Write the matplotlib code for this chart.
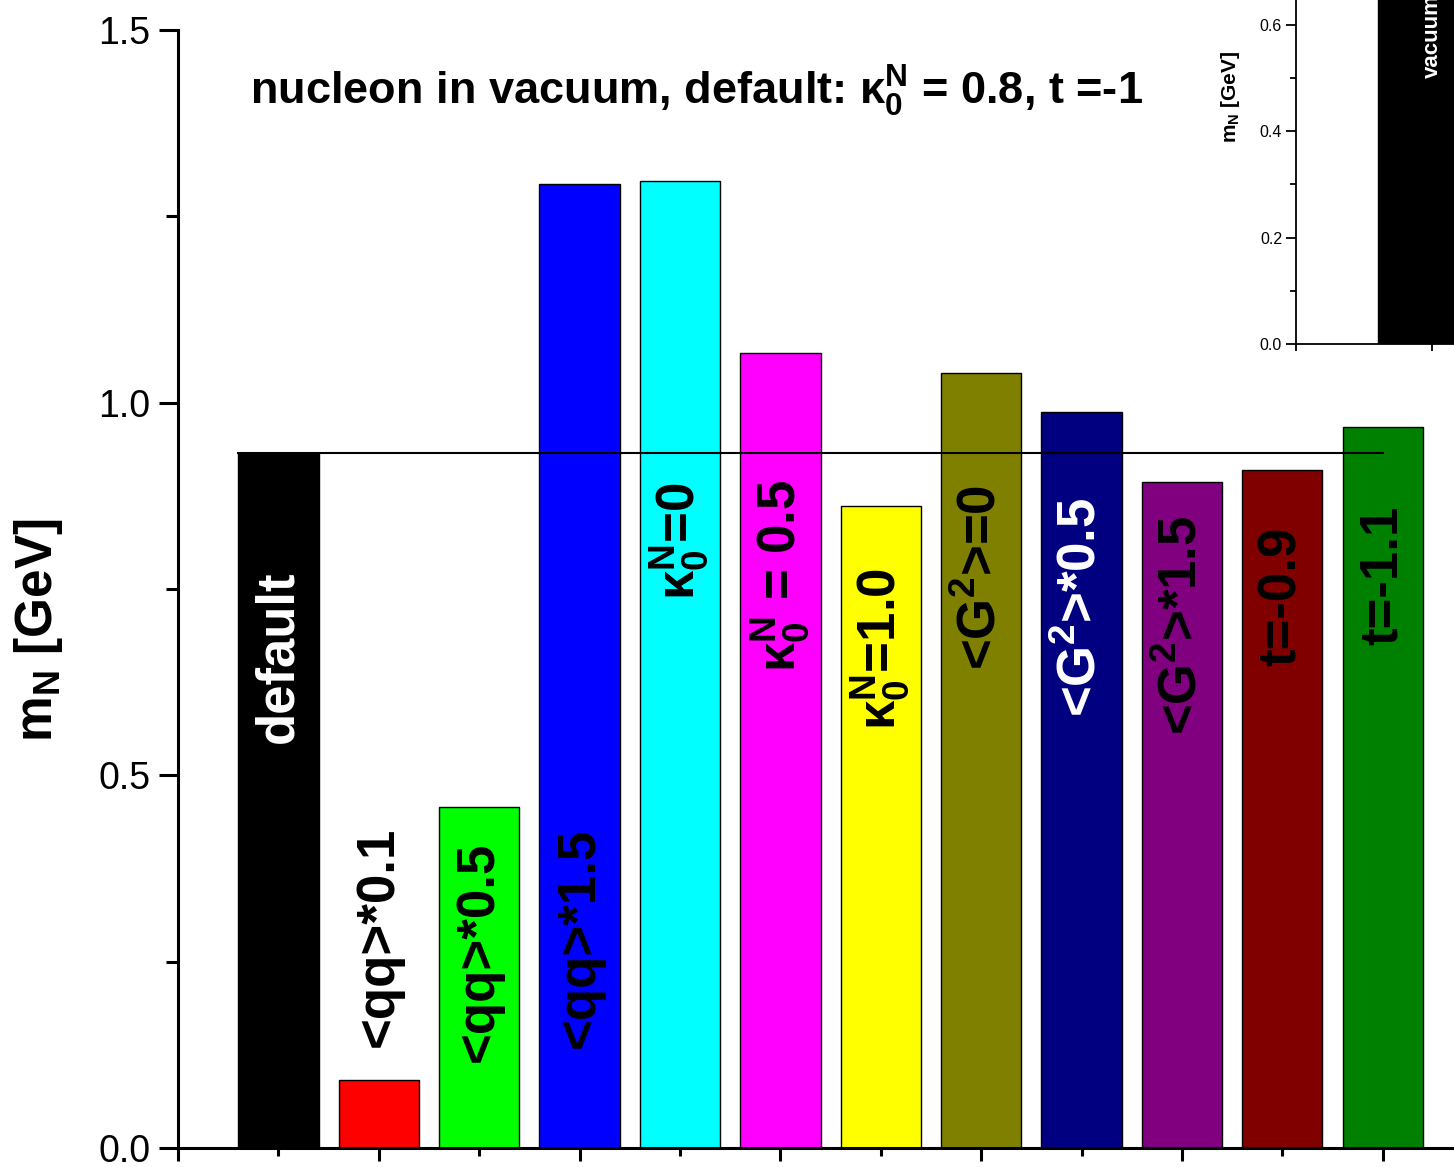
import matplotlib
matplotlib.use("Agg")
import matplotlib.pyplot as plt
from matplotlib import font_manager
from matplotlib.ticker import MultipleLocator

names = {f.name for f in font_manager.fontManager.ttflist}
narrow = "Liberation Sans Narrow" if "Liberation Sans Narrow" in names else "Liberation Sans"
has_narrow = narrow == "Liberation Sans Narrow"

plt.rcParams["font.family"] = "Liberation Sans"
plt.rcParams["mathtext.fontset"] = "custom"
plt.rcParams["mathtext.rm"] = "Liberation Sans:bold"
plt.rcParams["mathtext.bf"] = "Liberation Sans:bold"
plt.rcParams["mathtext.it"] = "Liberation Sans:bold"

# data
labels = ["default", "<qq>*0.1", "<qq>*0.5", "<qq>*1.5",
          r"$\mathbf{\kappa_0^N}$=0", r"$\mathbf{\kappa_0^N}$ = 0.5", r"$\mathbf{\kappa_0^N}$=1.0",
          r"<G$^2$>=0", r"<G$^2$>*0.5", r"<G$^2$>*1.5", "t=-0.9", "t=-1.1"]
masses = [0.933, 0.091, 0.458, 1.294, 1.298, 1.066, 0.862, 1.040, 0.988, 0.893, 0.910, 0.968]
colors = ["#000000", "#ff0000", "#00ff00", "#0000ff", "#00ffff", "#ff00ff", "#ffff00",
          "#808000", "#000080", "#800080", "#800000", "#008000"]
text_colors = ["white", "black", "black", "black", "black", "black", "black",
               "black", "white", "black", "black", "black"]
label_y = [0.659, 0.283, 0.263, 0.282, 0.815, 0.767, 0.670, 0.765, 0.726, 0.702, 0.740, 0.769]
default_mass = 0.933
vacuum_mass = 1.0  # inset bar, runs off the top

pos = list(range(1, len(masses) + 1))

fig = plt.figure(figsize=(14.54, 11.67), dpi=100)
ax = fig.add_axes([178 / 1454, 19 / 1167, 1276 / 1454, 1118 / 1167])

ax.bar(pos, masses, width=0.8, color=colors, edgecolor="black", linewidth=1.0, zorder=2)
ax.plot([pos[0] - 0.4, pos[-1]], [default_mass, default_mass], color="black", lw=1.5, zorder=3)

for x, lab, y, c in zip(pos, labels, label_y, text_colors):
    ax.text(x, y, lab, rotation=90, ha="center", va="center", fontsize=38,
            fontweight="bold", color=c, zorder=4)

ax.set_xlim(0, 12.71)
ax.set_ylim(0, 1.5)
ax.spines["top"].set_visible(False)
ax.spines["right"].set_visible(False)
for s in ("left", "bottom"):
    ax.spines[s].set_linewidth(2.2)

ax.xaxis.set_major_locator(MultipleLocator(2))
ax.xaxis.set_minor_locator(MultipleLocator(1))
ax.yaxis.set_major_locator(MultipleLocator(0.5))
ax.yaxis.set_minor_locator(MultipleLocator(0.25))
ax.tick_params(axis="x", which="major", direction="out", length=9, width=2.2, labelbottom=False)
ax.tick_params(axis="x", which="minor", direction="out", length=5.5, width=2.2)
ax.tick_params(axis="y", which="major", direction="out", length=14, width=2.2, pad=6,
               labelsize=31 if has_narrow else 27)
ax.tick_params(axis="y", which="minor", direction="out", length=8.5, width=2.2)
ax.set_yticks([0, 0.5, 1.0, 1.5])
ax.set_yticklabels(["0.0", "0.5", "1.0", "1.5"], fontfamily=narrow)

ax.set_ylabel(r"$\mathbf{m_N}$ [GeV]", fontsize=37, fontweight="bold")
ax.yaxis.set_label_coords(-0.0886, 0.463)

ax.text(0.406, 0.945, r"nucleon in vacuum, default: $\mathbf{\kappa_0^N}$ = 0.8, t =-1",
        transform=ax.transAxes, ha="center", va="center",
        fontsize=37 if has_narrow else 32.5,
        fontweight="bold", fontfamily=narrow)

# inset
ins = fig.add_axes([1296 / 1454, (1167 - 344) / 1167, 272 / 1454, 532 / 1167])
ins.bar([1], [vacuum_mass], width=0.8, color="black", edgecolor="black")
ins.text(1, 0.5, "vacuum", rotation=90, ha="center", va="bottom", fontsize=16,
         fontweight="bold", color="white")
ins.set_xlim(0, 2)
ins.set_ylim(0, 1.0)
ins.spines["top"].set_visible(False)
ins.spines["right"].set_visible(False)
for s in ("left", "bottom"):
    ins.spines[s].set_linewidth(1.3)
ins.set_xticks([0, 1, 2])
ins.tick_params(axis="x", length=5, width=1.3, labelbottom=False)
ins.yaxis.set_major_locator(MultipleLocator(0.2))
ins.yaxis.set_minor_locator(MultipleLocator(0.1))
ins.tick_params(axis="y", which="major", length=7, width=1.3, labelsize=12.5 if has_narrow else 11.5, pad=3)
ins.tick_params(axis="y", which="minor", length=4, width=1.3)
for t in ins.get_yticklabels():
    t.set_fontfamily(narrow)
ins.set_ylabel(r"$\mathbf{m_N}$ [GeV]", fontsize=15, fontweight="bold")
ins.yaxis.set_label_coords(-0.199, 0.464)

fig.savefig("out.png", dpi=100)
